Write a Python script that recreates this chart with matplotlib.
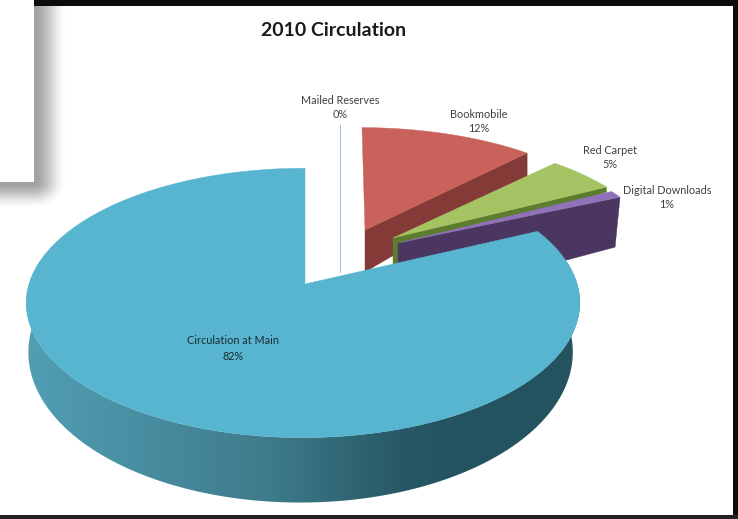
import numpy as np
import matplotlib
matplotlib.use("Agg")
import matplotlib.pyplot as plt
from matplotlib.colors import LinearSegmentedColormap
from matplotlib.patches import Polygon, Rectangle

# Circulation shares, clockwise from twelve o'clock
categories = ["Mailed Reserves", "Bookmobile", "Red Carpet", "Digital Downloads", "Circulation at Main"]
shares = [0, 12, 5, 1, 82]
share_labels = ["0%", "12%", "5%", "1%", "82%"]

# Slice appearance: exploded tip, radial scale, lean and thickness of the cut face
styles = {
    "Mailed Reserves": dict(tip=(339.5, 236), rx=.96, ry=.955, lean=0, d_tip=36, d_rim=36, shift=0,
                            top="#9dc0de", side="#9dc0de"),
    "Bookmobile": dict(tip=(365, 230), rx=.97, ry=.885, lean=-3, d_tip=42, d_rim=24, shift=0,
                       top="#c9625a", side="#843a37"),
    "Red Carpet": dict(tip=(393, 238), rx=.955, ry=.86, lean=0, d_tip=30, d_rim=5, shift=0,
                       top="#a6c364", side="#5d7d2e"),
    "Digital Downloads": dict(tip=(398, 243), rx=.955, ry=.87, lean=0, d_tip=62, d_rim=50, shift=-5,
                              top="#9171b9", side="#4a3660"),
}
label_pos = {
    "Mailed Reserves": (340, 100, 115),
    "Bookmobile": (479, 114, 128),
    "Red Carpet": (610, 150, 164),
    "Digital Downloads": (667, 191, 205),
    "Circulation at Main": (233, 341, 356),
}

MAIN_TOP = "#57b5d0"
PERSP = 0.1407
SKEW = 0.007
BLACK = "#0c0c0c"
FONT = "Lato"


def project(theta, rx=1.0, ry=1.0, a=274.0, b=132.0):
    """Perspective projection of points on the unit pie disc, theta clockwise from north."""
    u, v = np.sin(theta), np.cos(theta)
    w = 1 + PERSP * v + SKEW * u
    return a * rx * u / w, -b * ry * v / w


fig = plt.figure(figsize=(7.38, 5.19), dpi=100, facecolor="white")
ax = fig.add_axes([0, 0, 1, 1])
ax.set_xlim(0, 738)
ax.set_ylim(519, 0)
ax.axis("off")

# Soft shadow thrown by the panel in the upper-left corner
yy, xx = np.mgrid[0:230, 0:90] + 0.5
dx = np.clip(xx - 34, 0, None)
dy = np.clip(yy - 182, 0, None)
fade = np.clip(1 - np.hypot(dx / 33, dy / 27), 0, 1)
fade = fade * fade * (3 - 2 * fade)
shadow = np.zeros((230, 90, 4))
shadow[..., :3] = 0.33
shadow[..., 3] = 0.55 * fade
ax.imshow(shadow, extent=(0, 90, 230, 0), aspect="auto", zorder=1, interpolation="bilinear")
ax.add_patch(Rectangle((0, 0), 34, 182, fc="white", ec="none", zorder=2))

# Dark frame
ax.add_patch(Rectangle((34, 0), 704, 5.5, fc=BLACK, ec="none", zorder=3))
ax.add_patch(Rectangle((732.5, 0), 5.5, 519, fc=BLACK, ec="none", zorder=3))
ax.add_patch(Rectangle((0, 515), 738, 4, fc="#222222", ec="none", zorder=3))

# Small exploded slices, back to front
fractions = np.cumsum([0] + shares) / sum(shares) * 2 * np.pi
z = 5
for i, name in enumerate(categories[:-1]):
    st = styles[name]
    tx, ty = st["tip"]
    th = np.linspace(fractions[i], fractions[i + 1], 40)
    px, py = project(th, st["rx"], st["ry"])
    px = px + st["lean"] * np.cos(th)
    rim_x, rim_y = tx + px, ty + py
    face = [(tx, ty), (rim_x[-1], rim_y[-1]), (rim_x[-1] + st["shift"], rim_y[-1] + st["d_rim"]),
            (tx, ty + st["d_tip"])]
    top = np.column_stack([np.r_[tx, rim_x], np.r_[ty, rim_y]])
    lw = 0.6 if shares[i] == 0 else 0.3
    ax.add_patch(Polygon(face, closed=True, fc=st["side"], ec=st["side"], lw=lw, zorder=z))
    ax.add_patch(Polygon(top, closed=True, fc=st["top"], ec=st["top"], lw=lw, zorder=z + 1))
    z += 2

# Main slice: rounded wall with a horizontal shading ramp
MAIN_TIP = (305, 284)
th_wall = np.linspace(np.radians(80), np.radians(280), 200)
up_x, up_y = project(th_wall)
lo_x, lo_y = project(th_wall, a=269.5, b=147.4)
wall = np.column_stack([
    np.r_[MAIN_TIP[0] + up_x, (302.5 + lo_x)[::-1]],
    np.r_[MAIN_TIP[1] + up_y, (331 + lo_y)[::-1]],
])
ramp = LinearSegmentedColormap.from_list("wall", [
    (0.00, "#539eb3"), (0.10, "#4d96ab"), (0.45, "#3d7a89"),
    (0.68, "#285865"), (0.80, "#245360"), (1.00, "#245360"),
])
wall_patch = Polygon(wall, closed=True, fc="none", ec="none", zorder=20)
ax.add_patch(wall_patch)
img = ax.imshow(np.linspace(0, 1, 256)[None, :], extent=(26, 580, 519, 250), cmap=ramp,
                aspect="auto", zorder=20, vmin=0, vmax=1)
img.set_clip_path(wall_patch)

# Main slice: top face
th_main = np.linspace(fractions[4], fractions[5], 300)
mx, my = project(th_main)
ax.add_patch(Polygon(np.column_stack([np.r_[MAIN_TIP[0], MAIN_TIP[0] + mx],
                                      np.r_[MAIN_TIP[1], MAIN_TIP[1] + my]]),
                     closed=True, fc=MAIN_TOP, ec=MAIN_TOP, lw=0.3, zorder=21))

ax.set_xlim(0, 738)
ax.set_ylim(519, 0)

# Text
ax.text(333.5, 30, "2010 Circulation", family=FONT, weight="bold", fontsize=14,
        color="#1a1a1a", ha="center", va="center", zorder=30)
for name, pct in zip(categories, share_labels):
    x, y1, y2 = label_pos[name]
    col = "#1c2c33" if name == "Circulation at Main" else "#404040"
    ax.text(x, y1, name, family=FONT, fontsize=7.8, color=col, ha="center", va="center", zorder=30)
    ax.text(x, y2, pct, family=FONT, fontsize=7.8, color=col, ha="center", va="center", zorder=30)

fig.savefig("out.png", dpi=100, facecolor="white")
